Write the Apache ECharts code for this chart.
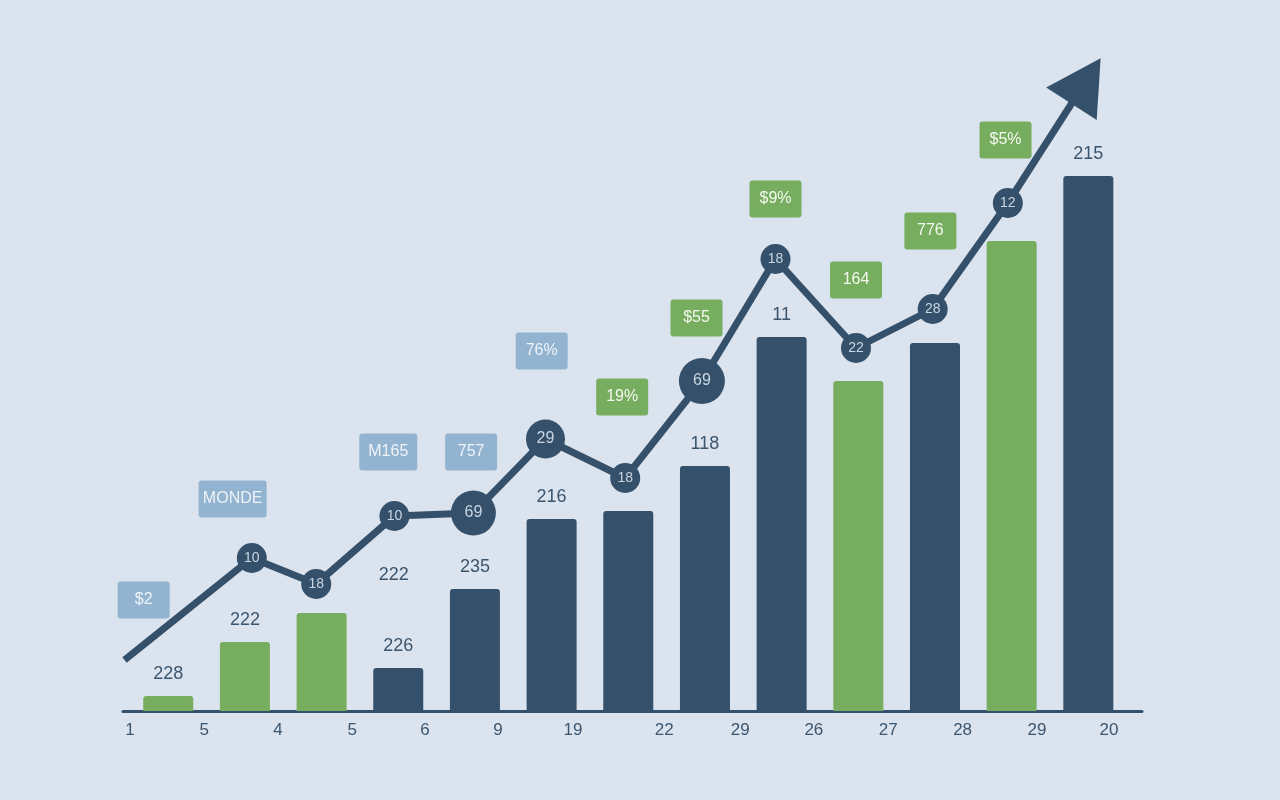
<!DOCTYPE html>
<html>
<head>
<meta charset="utf-8">
<title>Growth chart</title>
<script src="https://cdn.jsdelivr.net/npm/echarts@6/dist/echarts.min.js"></script>
<style>
  html, body { margin: 0; padding: 0; background: #dae3ee; }
  #chart { width: 1280px; height: 800px; }
</style>
</head>
<body>
<div id="chart"></div>
<script>
// x axis labels and where they sit along the axis
const tickLabels = ["1", "5", "4", "5", "6", "9", "19", "22", "29", "26", "27", "28", "29", "20"];
const tickValues = [0, 0.97, 1.93, 2.9, 3.85, 4.8, 5.78, 6.97, 7.96, 8.92, 9.89, 10.86, 11.83, 12.77];

// bars (one per slot)
const barValues = [15, 69, 98, 43, 122, 192, 200, 245, 374, 330, 368, 470, 535];
const barLabels = ["228", "222", null, "226", "235", "216", null, "118", "11", null, null, null, "215"];
const greenBars = [0, 1, 2, 9, 11];

// trend line
const lineX = [-0.07, 1.59, 2.43, 3.45, 4.48, 5.42, 6.46, 7.46, 8.42, 9.47, 10.47, 11.45];
const lineY = [51, 153, 127, 195, 198, 272, 233, 330, 452, 363, 402, 508];
const nodeLabels = [null, "10", "18", "10", "69", "29", "18", "69", "18", "22", "28", "12"];
const arrowEnd = [12.47, 630];

// boxed tags
const blueTagNames = ["$2", "MONDE", "M165", "757", "76%"];
const blueTagX = [0.18, 1.34, 3.37, 4.45, 5.37];
const blueTagY = [111, 212, 259, 259, 360];
const greenTagNames = ["19%", "$55", "$9%", "164", "776", "$5%"];
const greenTagX = [6.42, 7.39, 8.42, 9.47, 10.44, 11.42];
const greenTagY = [314, 393, 512, 431, 480, 571];

// loose text
const noteNames = ["222"];
const noteX = [3.44];
const noteY = [136];

const NAVY = "#34506a";
const GREEN = "#77ad5e";
const BLUE_TAG = "#93b4d0";
const FONT = "Liberation Sans, Arial, sans-serif";
const bigNodes = { 4: 45, 5: 39, 7: 46 };

const chart = echarts.init(document.getElementById("chart"));

const barData = barValues.map((v, i) => ({
  value: [i + 0.5, v],
  itemStyle: { color: greenBars.includes(i) ? GREEN : NAVY },
  label: { show: barLabels[i] != null, formatter: barLabels[i] || "" }
}));

const lineData = lineX.map((x, i) => ({
  value: [x, lineY[i]],
  symbol: nodeLabels[i] ? "circle" : "none",
  symbolSize: bigNodes[i] || 30,
  label: {
    show: !!nodeLabels[i],
    formatter: nodeLabels[i] || "",
    fontSize: bigNodes[i] ? 16 : 14
  }
}));

const tagData = (names, xs, ys) =>
  names.map((n, i) => ({
    name: n,
    value: [xs[i], ys[i]],
    label: { width: Math.max(34, n.length * 10) }
  }));

// invisible points that only carry a label
const textPoint = { color: "rgba(0,0,0,0)", opacity: 1 };

const tagSeries = (names, xs, ys, bg, fg) => ({
  type: "scatter",
  symbolSize: 1,
  itemStyle: textPoint,
  z: 5,
  silent: true,
  label: {
    show: true,
    position: "inside",
    formatter: "{b}",
    backgroundColor: bg,
    color: fg,
    opacity: 1,
    fontFamily: FONT,
    fontSize: 16,
    lineHeight: 17,
    padding: [10, 9],
    borderRadius: 3,
    align: "center"
  },
  data: tagData(names, xs, ys)
});

const option = {
  backgroundColor: "#dae3ee",
  animation: false,
  grid: { left: 123, right: 138, top: 51, bottom: 89 },
  xAxis: {
    type: "value",
    min: -0.09,
    max: 13.2,
    splitLine: { show: false },
    axisTick: { show: false },
    axisLine: { show: true, lineStyle: { color: NAVY, width: 3 } },
    axisLabel: {
      customValues: tickValues,
      formatter: (v) => tickLabels[tickValues.indexOf(v)] ?? "",
      color: "#3c566f",
      fontFamily: FONT,
      fontSize: 17,
      margin: 11
    }
  },
  yAxis: {
    type: "value",
    min: 0,
    max: 660,
    show: false
  },
  series: [
    {
      type: "bar",
      barWidth: 50,
      itemStyle: { borderRadius: [3, 3, 0, 0] },
      label: {
        position: "top",
        distance: 13,
        color: "#3b556e",
        fontFamily: FONT,
        fontSize: 18
      },
      data: barData
    },
    {
      type: "line",
      clip: false,
      z: 4,
      lineStyle: { color: NAVY, width: 7 },
      itemStyle: { color: NAVY },
      label: {
        position: "inside",
        color: "#c9d6e2",
        fontFamily: FONT
      },
      data: lineData,
      markLine: {
        silent: true,
        z: 3,
        symbol: ["none", "triangle"],
        symbolSize: [60, 54],
        label: { show: false },
        lineStyle: { color: NAVY, width: 7, type: "solid" },
        data: [[
          { coord: [lineX[lineX.length - 1], lineY[lineY.length - 1]] },
          { coord: arrowEnd }
        ]]
      }
    },
    tagSeries(blueTagNames, blueTagX, blueTagY, BLUE_TAG, "#eef3f8"),
    tagSeries(greenTagNames, greenTagX, greenTagY, GREEN, "#f4f8f1"),
    {
      type: "scatter",
      symbolSize: 1,
      itemStyle: textPoint,
      silent: true,
      label: {
        show: true,
        position: "inside",
        formatter: "{b}",
        color: "#3b556e",
        opacity: 1,
        fontFamily: FONT,
        fontSize: 18
      },
      data: noteNames.map((n, i) => ({ name: n, value: [noteX[i], noteY[i]] }))
    }
  ]
};

chart.setOption(option);
window.addEventListener("resize", () => chart.resize());
</script>
</body>
</html>
